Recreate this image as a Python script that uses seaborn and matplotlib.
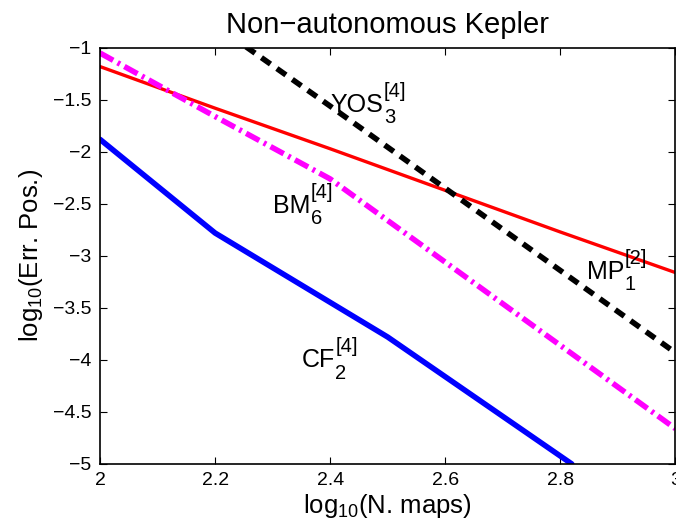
import seaborn as sns
import matplotlib.pyplot as plt

# values (log10 scale)
mp_x = [2.0, 2.2, 2.4, 2.6, 2.8, 3.0]
mp_y = [-1.18, -1.58, -1.97, -2.37, -2.77, -3.16]

yos_x = [2.2, 2.4, 2.6, 2.8, 3.0]
yos_y = [-0.78, -1.56, -2.35, -3.14, -3.93]

bm_x = [2.0, 2.2, 2.4, 2.6, 2.8, 3.0]
bm_y = [-1.05, -1.66, -2.26, -3.06, -3.86, -4.66]

cf_x = [2.0, 2.2, 2.5, 2.82]
cf_y = [-1.88, -2.78, -3.78, -5.0]

xticks = [2, 2.2, 2.4, 2.6, 2.8, 3]
xtick_labels = ['2', '2.2', '2.4', '2.6', '2.8', '3']
yticks = [-5, -4.5, -4, -3.5, -3, -2.5, -2, -1.5, -1]
ytick_labels = ['\u22125', '\u22124.5', '\u22124', '\u22123.5', '\u22123',
                '\u22122.5', '\u22122', '\u22121.5', '\u22121']

sns.set_style('ticks')
plt.rcParams['font.family'] = ['Liberation Sans', 'DejaVu Sans']
plt.rcParams['mathtext.default'] = 'regular'
for key in ['text.color', 'axes.labelcolor', 'axes.edgecolor',
            'xtick.color', 'ytick.color']:
    plt.rcParams[key] = 'black'

fig = plt.figure(figsize=(6.76, 5.26), dpi=100)
ax = fig.add_axes([0.148, 0.118, 0.851, 0.791])

sns.lineplot(x=mp_x, y=mp_y, color='#ff0000', lw=2.4, ax=ax)
sns.lineplot(x=yos_x, y=yos_y, color='black', lw=4, ax=ax)
ax.lines[-1].set_dashes((2.0, 1.4))
sns.lineplot(x=bm_x, y=bm_y, color='#ff00ff', lw=4, ax=ax)
ax.lines[-1].set_dashes((2.7, 0.9, 0.5, 0.9))
sns.lineplot(x=cf_x, y=cf_y, color='#0000ff', lw=4, ax=ax)

ax.set_xlim(2, 3)
ax.set_ylim(-5, -1)
ax.set_xticks(xticks)
ax.set_xticklabels(xtick_labels)
ax.set_yticks(yticks)
ax.set_yticklabels(ytick_labels)
ax.tick_params(direction='in', top=True, right=True, labelsize=14,
               length=5, width=0.8, pad=6)
for s in ax.spines.values():
    s.set_linewidth(1.2)


def method_label(x, y, name, sub, sup):
    t = ax.text(x, y, name, fontsize=18, va='baseline')
    ax.annotate(sup, xy=(1, 0), xycoords=t, xytext=(0.5, 11.5),
                textcoords='offset points', fontsize=14.5, va='bottom')
    ax.annotate(sub, xy=(1, 0), xycoords=t, xytext=(0.5, -7.5),
                textcoords='offset points', fontsize=14.5, va='bottom')


method_label(2.400, -1.615, 'YOS', '3', '[4]')
method_label(2.300, -2.585, 'BM', '6', '[4]')
method_label(2.846, -3.22, 'MP', '1', '[2]')
method_label(2.350, -4.07, 'CF', '2', '[4]')

ax.set_xlabel(r'log$_{10}$(N. maps)', fontsize=18.5, labelpad=2)
ax.set_ylabel(r'log$_{10}$(Err. Pos.)', fontsize=18.5, labelpad=6)
ax.set_title('Non\u2212autonomous Kepler', fontsize=21, pad=11)

fig.savefig('out.png', dpi=100)
